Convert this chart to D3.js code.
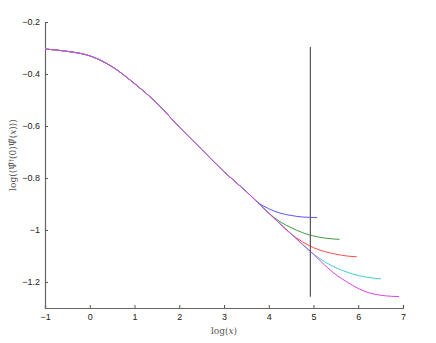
<!DOCTYPE html>
<html lang="en">
<head>
    <meta charset="UTF-8">
    <title>Correlator decay</title>
    <script src="https://d3js.org/d3.v7.min.js"></script>
    <style>
        body, html {
            margin: 0;
            background: #fff;
        }
        svg {
            display: block;
        }
        .tick text {
            font-family: "Liberation Sans", Arial, sans-serif;
            font-size: 9px;
            fill: #222;
        }
        .axis-label {
            font-family: "DejaVu Serif", "Liberation Serif", serif;
            font-size: 9px;
            fill: #555;
        }
    </style>
</head>
<body>
    <svg></svg>
    <script>
        // shared part of all curves
        const baseX = [-1, -0.5, 0, 0.5, 1, 1.5, 2, 2.5, 3, 3.5];
        const baseY = [-0.304, -0.313, -0.330, -0.372, -0.437, -0.512, -0.604, -0.690, -0.776, -0.852];

        // tails, where the curves split off
        const blueX = [3.75, 4, 4.25, 4.5, 4.75, 5.08];
        const blueY = [-0.893, -0.918, -0.935, -0.944, -0.950, -0.952];
        const greenX = [4, 4.25, 4.5, 4.75, 5, 5.25, 5.58];
        const greenY = [-0.935, -0.968, -0.991, -1.010, -1.023, -1.031, -1.036];
        const redX = [4, 4.5, 4.75, 5, 5.25, 5.5, 5.75, 5.97];
        const redY = [-0.935, -1.015, -1.045, -1.068, -1.083, -1.093, -1.100, -1.103];
        const cyanX = [4, 4.5, 5, 5.25, 5.5, 5.75, 6, 6.25, 6.51];
        const cyanY = [-0.935, -1.015, -1.093, -1.122, -1.145, -1.162, -1.175, -1.183, -1.188];
        const magentaX = [4, 4.5, 5, 5.25, 5.5, 5.75, 6, 6.25, 6.5, 6.75, 6.91];
        const magentaY = [-0.935, -1.015, -1.093, -1.135, -1.172, -1.200, -1.225, -1.242, -1.251, -1.255, -1.256];

        const seriesNames = ["blue", "green", "red", "cyan", "magenta"];
        const seriesColors = ["#5555ff", "#3d9a3d", "#ff4d4d", "#3fd0d0", "#d845e0"];
        const tailsX = [blueX, greenX, redX, cyanX, magentaX];
        const tailsY = [blueY, greenY, redY, cyanY, magentaY];

        const cutX = 4.93;
        const cutY = [-0.296, -1.257];

        const xTicks = [-1, 0, 1, 2, 3, 4, 5, 6, 7];
        const yTicks = [-0.2, -0.4, -0.6, -0.8, -1, -1.2];

        const W = 436, H = 343;
        const margin = {top: 22, right: 33, bottom: 35, left: 45};
        const width = W - margin.left - margin.right;
        const height = H - margin.top - margin.bottom;

        const svg = d3.select("svg").attr("width", W).attr("height", H)
            .append("g")
            .attr("transform", `translate(${margin.left},${margin.top})`);

        const x = d3.scaleLinear().domain([-1, 7]).range([0, width]);
        const y = d3.scaleLinear().domain([-1.3, -0.2]).range([height, 0]);

        const fmt = d => d3.format("")(d).replace("-", "\u2212");

        // axes, ticks pointing inward like matlab
        const xAxis = svg.append("g")
            .attr("transform", `translate(0,${height})`)
            .call(d3.axisBottom(x).tickValues(xTicks).tickSize(-3).tickPadding(6).tickFormat(fmt));
        const yAxis = svg.append("g")
            .call(d3.axisLeft(y).tickValues(yTicks).tickSize(-3).tickPadding(5).tickFormat(fmt));
        [xAxis, yAxis].forEach(a => {
            a.select(".domain").attr("stroke", "#666").attr("stroke-width", 1.2);
            a.selectAll(".tick line").attr("stroke", "#555");
        });

        const line = d3.line()
            .x(d => x(d[0]))
            .y(d => y(d[1]))
            .curve(d3.curveMonotoneX);

        // draw in order so magenta ends up on top
        seriesNames.forEach((name, i) => {
            const pts = baseX.map((v, j) => [v, baseY[j]])
                .concat(tailsX[i].map((v, j) => [v, tailsY[i][j]]));
            svg.append("path")
                .datum(pts)
                .attr("fill", "none")
                .attr("stroke", seriesColors[i])
                .attr("stroke-width", 1)
                .attr("d", line);
        });

        // vertical marker
        svg.append("line")
            .attr("x1", x(cutX)).attr("x2", x(cutX))
            .attr("y1", y(cutY[0])).attr("y2", y(cutY[1]))
            .attr("stroke", "#555")
            .attr("stroke-width", 1.2);

        // axis labels
        svg.append("text")
            .attr("class", "axis-label")
            .attr("x", width / 2)
            .attr("y", height + 26)
            .attr("text-anchor", "middle")
            .html('log(<tspan font-style="italic">x</tspan>)');

        svg.append("text")
            .attr("class", "axis-label")
            .attr("transform", `translate(-29,${height / 2 - 10}) rotate(-90)`)
            .attr("text-anchor", "middle")
            .html('log(\u27E8\u03A8\u0303<tspan dy="-3" font-size="6">\u2020</tspan><tspan dy="3">(0)\u03A8\u0303(</tspan><tspan font-style="italic">x</tspan>)\u27E9)');
    </script>
</body>
</html>
